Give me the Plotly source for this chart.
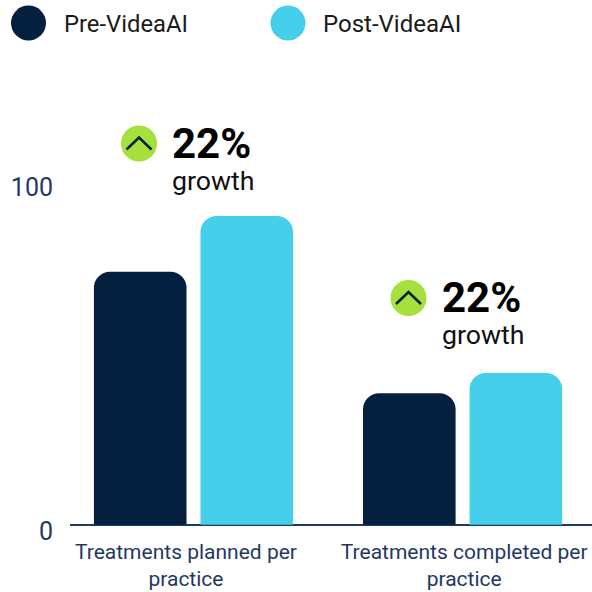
import plotly.graph_objects as go

categories = ["Treatments planned per practice", "Treatments completed per practice"]
tick_labels = ["Treatments planned per<br>practice", "Treatments completed per<br>practice"]
pre_values = [75, 39]
post_values = [91.5, 45]
y_tick_labels = ["0", "100"]
y_tick_positions = [-1.75, 100]
x_tick_positions = [-0.028, 1.006]
legend_names = ["Pre-VideaAI", "Post-VideaAI"]
growth_labels = ["22%", "22%"]
growth_word = "growth"

DARK = "#05203F"
CYAN = "#45CFEB"
GREEN = "#A5E03C"
AXIS = "#1F3864"

W, H = 592, 592
ML, MB = 70, 57
PW, PH = W - ML, H - MB


def px(x):
    return (x - ML) / PW


def py(y):
    return 1 - y / PH


fig = go.Figure()
fig.add_bar(x=[0, 1], y=pre_values, name=legend_names[0], marker_color=DARK, marker_line_width=0)
fig.add_bar(x=[0, 1], y=post_values, name=legend_names[1], marker_color=CYAN, marker_line_width=0)

shapes = []
annotations = []


def circle(cx, cy, r, color):
    shapes.append(dict(type="circle", xref="paper", yref="paper", x0=px(cx - r), x1=px(cx + r),
                       y0=py(cy + r), y1=py(cy - r), fillcolor=color, line_width=0, layer="above"))


def label(x, y, text, size, color, bold=False):
    annotations.append(dict(xref="paper", yref="paper", x=px(x), y=py(y), text=f"<b>{text}</b>" if bold else text,
                            showarrow=False, xanchor="left", yanchor="middle", xshift=0,
                            font=dict(family="Roboto", size=size, color=color)))


circle(28.5, 23, 17.5, DARK)
circle(288, 23, 17.5, CYAN)
label(61.5, 24, legend_names[0], 23.8, "#1A1A1A")
label(321, 24, legend_names[1], 24, "#1A1A1A")

for (cx, cy, tx, t1, t2), g in zip([(139, 143.5, 169.5, 143, 181), (408.5, 298, 439.5, 297, 335)], growth_labels):
    circle(cx, cy, 18, GREEN)
    a, b = cx - 12.5, cx + 12.5
    shapes.append(dict(type="path", xref="paper", yref="paper", layer="above",
                       path=f"M {px(a)} {py(cy + 6)} L {px(cx)} {py(cy - 6)} L {px(b)} {py(cy + 6)}",
                       line=dict(color=DARK, width=2.5)))
    label(tx, t1, g, 42, "#000000", bold=True)
    label(tx, t2, growth_word, 26.7, "#111111")

fig.update_layout(
    width=W, height=H,
    margin=dict(l=ML, r=0, t=0, b=MB, pad=0),
    paper_bgcolor="white", plot_bgcolor="white",
    barmode="group", bargap=0.208, bargroupgap=0.131, barcornerradius=16,
    showlegend=False, shapes=shapes, annotations=annotations,
    font=dict(family="Roboto"),
    xaxis=dict(range=[-0.459, 1.481], tickmode="array", tickvals=x_tick_positions, ticktext=tick_labels,
               automargin=False, showgrid=False, zeroline=False, showline=False, ticklabelstandoff=2,
               ticks="", tickangle=0, tickfont=dict(family="Roboto", size=21, color=AXIS)),
    yaxis=dict(range=[-3, 155.5], tickmode="array", tickvals=y_tick_positions, ticktext=y_tick_labels,
               automargin=False, showgrid=False, zeroline=True, zerolinecolor=AXIS, zerolinewidth=2,
               showline=False, ticks="",
               ticklabelstandoff=16, tickfont=dict(family="Roboto", size=25, color=AXIS)),
)

fig.write_html("out.html", post_script="document.body.style.margin='0';", config={"displayModeBar": False})
